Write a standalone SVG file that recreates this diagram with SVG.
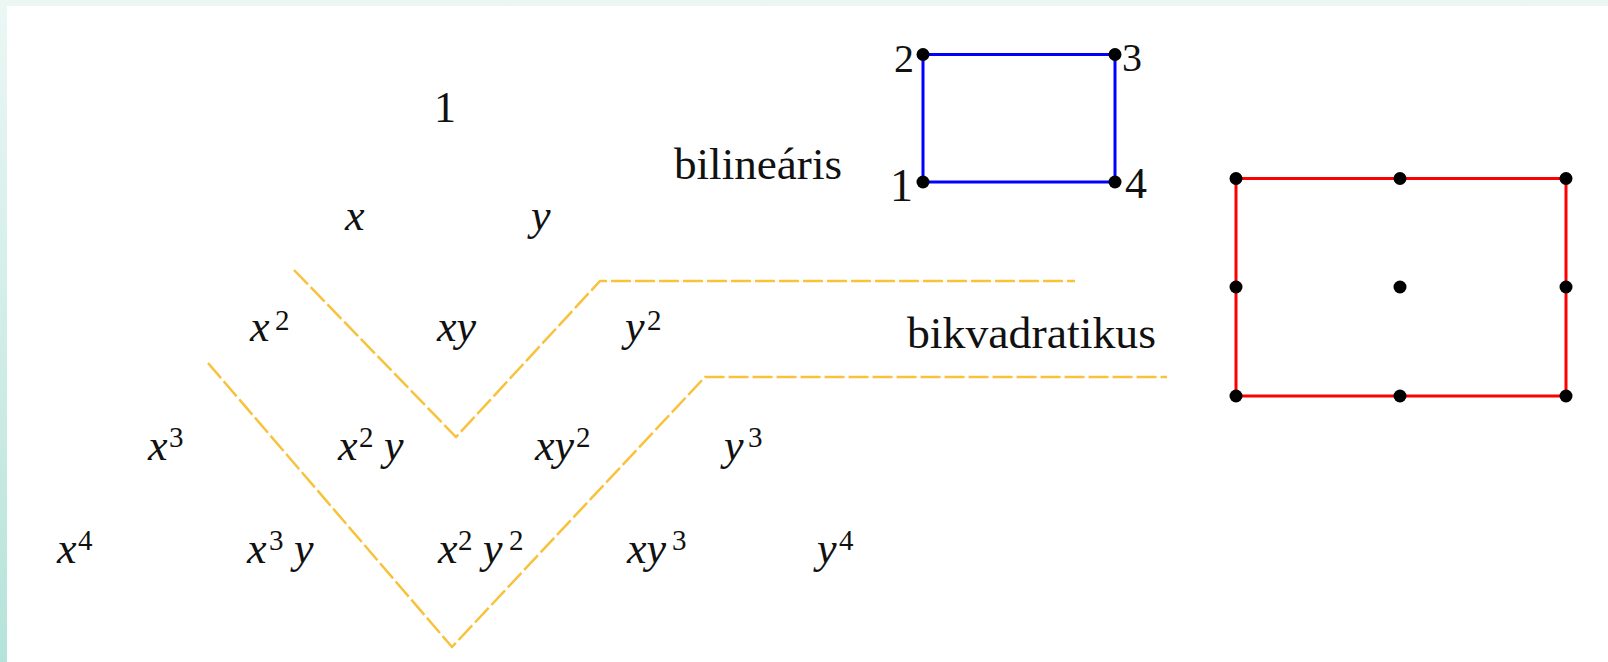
<svg xmlns="http://www.w3.org/2000/svg" width="1608" height="662" viewBox="0 0 1608 662">
<defs>
<linearGradient id="bg" x1="0" y1="0" x2="0" y2="1">
<stop offset="0" stop-color="#ecf7f4"/>
<stop offset="1" stop-color="#b5e3d9"/>
</linearGradient>
</defs>
<style>
.m{font-family:"Liberation Serif","Times New Roman",serif;font-style:italic;font-size:44px;fill:#111}
.s{font-style:normal;font-size:29px}
.t{font-family:"Liberation Serif","Times New Roman",serif;font-size:44px;fill:#111}
.lbl{font-family:"Liberation Serif","Times New Roman",serif;fill:#111}
.dash{fill:none;stroke:#f8c23c;stroke-width:2.5;stroke-dasharray:20 4}
.dot{fill:#000}
</style>
<rect x="0" y="0" width="1608" height="662" fill="url(#bg)"/>
<rect x="7" y="6" width="1601" height="656" fill="#fff"/>

<g id="connectors">
<polyline class="dash" points="294,270 456,437 600,281 1075,281"/>
<polyline class="dash" points="208,363 452,647 705,377 1167,377"/>
</g>

<g id="monomials">
<text id="m1" class="t" x="445" y="122" text-anchor="middle">1</text>
<text id="mx" class="m" x="345" y="230">x</text>
<text id="my" class="m" x="531" y="230">y</text>
<text id="mx2" class="m" y="341"><tspan x="250">x</tspan><tspan class="s" x="275" y="330">2</tspan></text>
<text id="mxy" class="m" x="437" y="341">xy</text>
<text id="my2" class="m" y="341"><tspan x="625">y</tspan><tspan class="s" x="647" y="330">2</tspan></text>
<text id="mx3" class="m" y="460"><tspan x="148">x</tspan><tspan class="s" x="169" y="447">3</tspan></text>
<text id="mx2y" class="m" y="460"><tspan x="338">x</tspan><tspan class="s" x="359" y="447">2</tspan><tspan x="384" y="460">y</tspan></text>
<text id="mxy2" class="m" y="460"><tspan x="535">xy</tspan><tspan class="s" x="576" y="447">2</tspan></text>
<text id="my3" class="m" y="460"><tspan x="724">y</tspan><tspan class="s" x="748" y="447">3</tspan></text>
<text id="mx4" class="m" y="563"><tspan x="57">x</tspan><tspan class="s" x="78" y="550">4</tspan></text>
<text id="mx3y" class="m" y="563"><tspan x="247">x</tspan><tspan class="s" x="269" y="550">3</tspan><tspan x="294" y="563">y</tspan></text>
<text id="mx2y2" class="m" y="563"><tspan x="438">x</tspan><tspan class="s" x="458" y="550">2</tspan><tspan x="483" y="563">y</tspan><tspan class="s" x="509" y="550">2</tspan></text>
<text id="mxy3" class="m" y="563"><tspan x="627">xy</tspan><tspan class="s" x="672" y="550">3</tspan></text>
<text id="my4" class="m" y="563"><tspan x="817">y</tspan><tspan class="s" x="839" y="550">4</tspan></text>
</g>

<g id="label-bilinearis">
<text class="t" x="674" y="179" textLength="168" lengthAdjust="spacingAndGlyphs">bilineáris</text>
</g>
<g id="label-bikvadratikus">
<text class="t" x="907" y="348" textLength="249" lengthAdjust="spacingAndGlyphs">bikvadratikus</text>
</g>

<g id="bilinear-element">
<rect x="923" y="54.5" width="192" height="127.5" fill="none" stroke="#0000ff" stroke-width="3"/>
<circle class="dot" cx="923" cy="54.5" r="6.5"/>
<circle class="dot" cx="1115" cy="54.5" r="6.5"/>
<circle class="dot" cx="923" cy="182" r="6.5"/>
<circle class="dot" cx="1115" cy="182" r="6.5"/>
<text class="lbl" x="914" y="72" font-size="40" text-anchor="end">2</text>
<text class="lbl" x="1122" y="71" font-size="40">3</text>
<text class="lbl" x="913" y="201" font-size="46" text-anchor="end">1</text>
<text class="lbl" x="1125" y="198" font-size="44">4</text>
</g>

<g id="biquadratic-element">
<rect x="1236" y="178.5" width="330" height="217.5" fill="none" stroke="#ff0000" stroke-width="3"/>
<circle class="dot" cx="1236" cy="178.5" r="6.5"/>
<circle class="dot" cx="1400" cy="178.5" r="6.5"/>
<circle class="dot" cx="1566" cy="178.5" r="6.5"/>
<circle class="dot" cx="1236" cy="287" r="6.5"/>
<circle class="dot" cx="1400" cy="287" r="6.5"/>
<circle class="dot" cx="1566" cy="287" r="6.5"/>
<circle class="dot" cx="1236" cy="396" r="6.5"/>
<circle class="dot" cx="1400" cy="396" r="6.5"/>
<circle class="dot" cx="1566" cy="396" r="6.5"/>
</g>
</svg>
